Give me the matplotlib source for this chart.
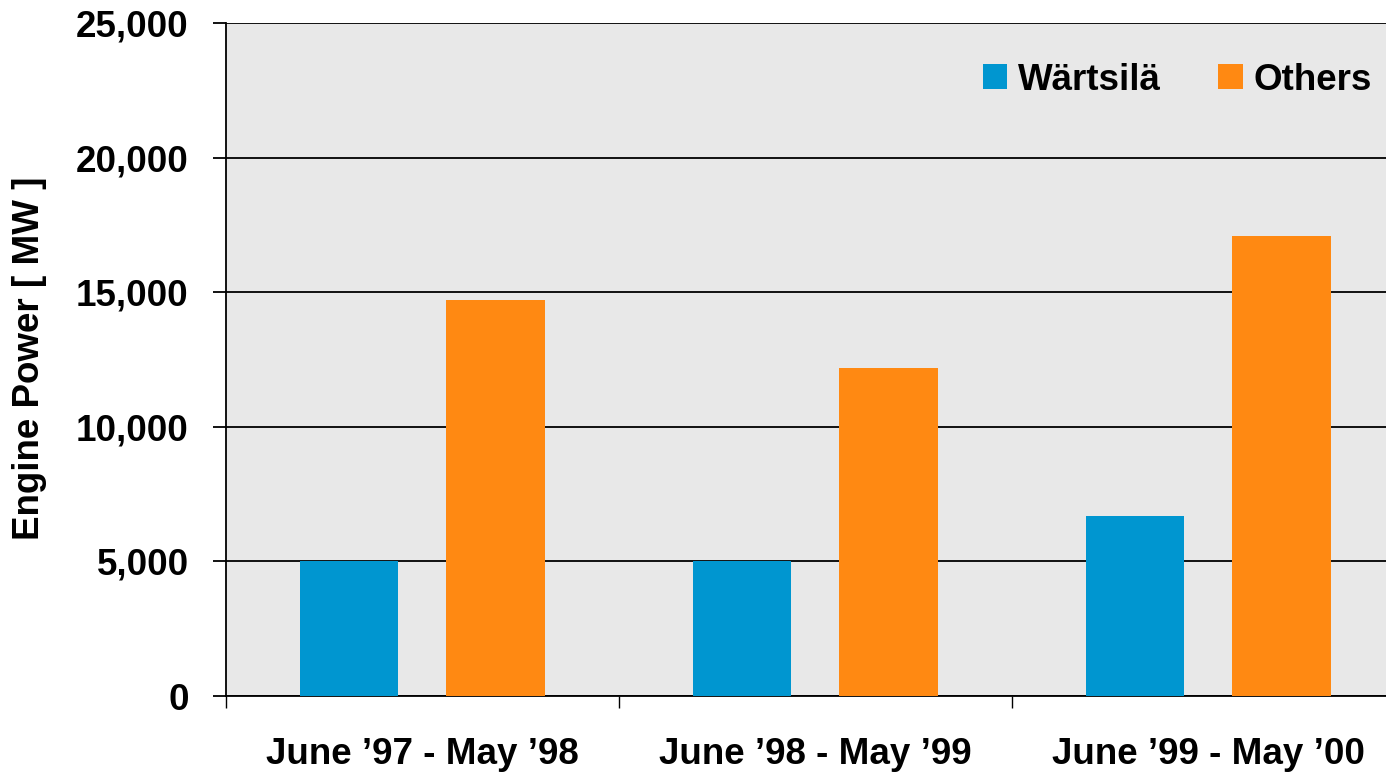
import matplotlib
matplotlib.use("Agg")
import matplotlib.pyplot as plt
import numpy as np
from matplotlib.patches import Patch
from matplotlib.ticker import FuncFormatter

plt.rcParams["font.family"] = ["Liberation Sans", "DejaVu Sans"]
plt.rcParams["font.weight"] = "bold"

periods = ["June \u201997 - May \u201998", "June \u201998 - May \u201999", "June \u201999 - May \u201900"]
wartsila = [5000, 5000, 6700]
others = [14700, 12200, 17100]
series_names = ["W\u00e4rtsil\u00e4", "Others"]

blue = "#0096D0"
orange = "#FF8912"
bg = "#E8E8E8"
fs = 26.5

W, H = 1386, 773
fig = plt.figure(figsize=(W / 100, H / 100), dpi=100)
ax = fig.add_axes([226 / W, 77 / H, (1405 - 226) / W, 673 / H])
ax.set_facecolor(bg)

x = np.arange(len(periods))
width = 0.25
ax.bar(x - 0.187, wartsila, width=width, color=blue, zorder=3)
ax.bar(x + 0.186, others, width=width, color=orange, zorder=3)

ax.set_xlim(-0.5, 2.5)
ax.set_ylim(0, 25000)
ax.set_yticks(np.arange(0, 25001, 5000))
ax.yaxis.set_major_formatter(FuncFormatter(lambda v, p: f"{int(v):,}"))
ax.yaxis.grid(True, color="black", linewidth=1.3, zorder=1)
ax.set_axisbelow(True)

ax.set_xticks(x)
ax.set_xticklabels(periods)
ax.set_xticks([-0.5, 0.5, 1.5, 2.5], minor=True)
ax.tick_params(axis="x", which="major", length=0, pad=29.5, labelsize=fs)
ax.tick_params(axis="x", which="minor", length=8.6, width=1, direction="out")
ax.tick_params(axis="y", length=9.4, width=1.3, direction="out", pad=17.5, labelsize=fs)

for s in ("top", "right"):
    ax.spines[s].set_visible(False)
for s in ("left", "bottom"):
    ax.spines[s].set_linewidth(1.3)
    ax.spines[s].set_color("black")

fig.text(30 / W, 1 - 358 / H, "Engine Power [ MW ]", rotation=90,
         ha="center", va="center", fontsize=fs, fontweight="bold")

handles = [Patch(facecolor=blue), Patch(facecolor=orange)]
fig.legend(handles, series_names, loc="center left",
           bbox_to_anchor=(983 / W, 1 - 80 / H), bbox_transform=fig.transFigure,
           ncol=2, frameon=False, fontsize=fs, borderpad=0, borderaxespad=0,
           handlelength=0.66, handleheight=0.66, handletextpad=0.3,
           columnspacing=1.55)

fig.savefig("out.png", dpi=100)
